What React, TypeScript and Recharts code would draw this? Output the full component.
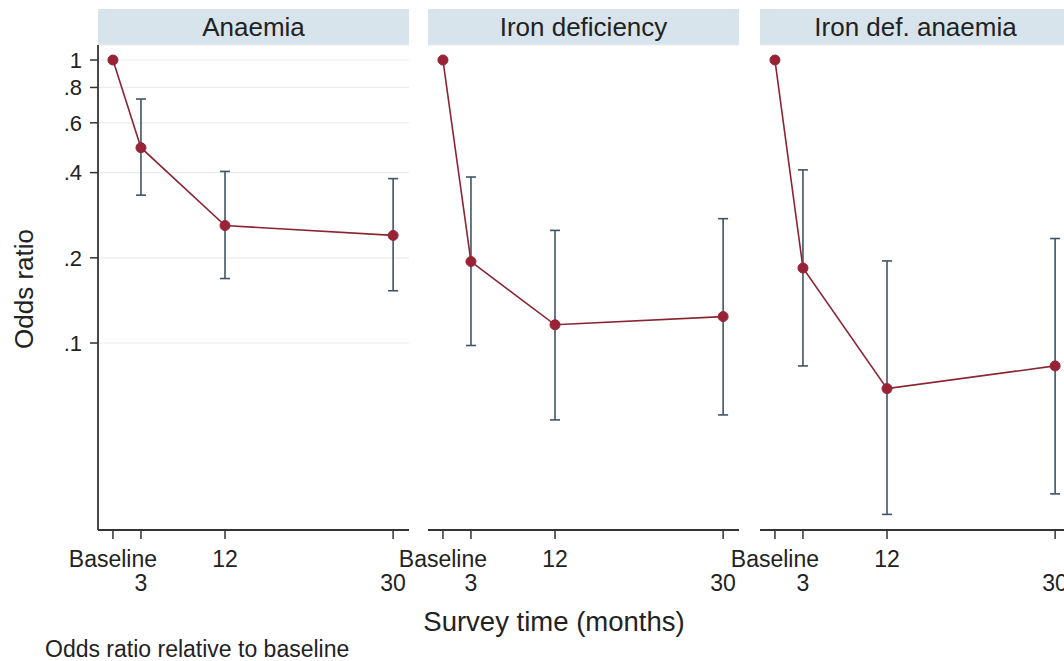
import React from "react";
import { LineChart, Line, XAxis, YAxis, CartesianGrid, ErrorBar } from "recharts";

// survey times (months), baseline = 0
const months = [0, 3, 12, 30];
const monthLabels = ["Baseline", "3", "12", "30"];

const yTicks = [0.1, 0.2, 0.4, 0.6, 0.8, 1];
const yTickLabels = [".1", ".2", ".4", ".6", ".8", "1"];

const panelTitles = ["Anaemia", "Iron deficiency", "Iron def. anaemia"];

// odds ratios with 95% CI
const anaemiaOR = [1, 0.49, 0.26, 0.24];
const anaemiaLow = [null, 0.333, 0.169, 0.153];
const anaemiaHigh = [null, 0.728, 0.404, 0.381];

const ironDefOR = [1, 0.194, 0.116, 0.124];
const ironDefLow = [null, 0.098, 0.0535, 0.0557];
const ironDefHigh = [null, 0.386, 0.25, 0.275];

const idaOR = [1, 0.184, 0.069, 0.083];
const idaLow = [null, 0.083, 0.0248, 0.0293];
const idaHigh = [null, 0.409, 0.195, 0.234];

const FONT = "'Liberation Sans', Arial, sans-serif";
const TEXT = "#222";
const LINE_RED = "#8c2533";
const DOT_RED = "#982336";
const BAR_BLUE = "#3f5468";
const STRIP = "#d8e4ec";

const PLOT_W = 311;
const Y_AXIS_W = 98;
const plotLefts = [98, 428, 760];

function buildRows(or: number[], low: (number | null)[], high: (number | null)[]) {
  return months.map((m, i) => ({
    month: m,
    or: or[i],
    err: low[i] == null || high[i] == null ? null : [or[i] - (low[i] as number), (high[i] as number) - or[i]],
  }));
}

const panels = [
  buildRows(anaemiaOR, anaemiaLow, anaemiaHigh),
  buildRows(ironDefOR, ironDefLow, ironDefHigh),
  buildRows(idaOR, idaLow, idaHigh),
];

const XTick = (props: any) => {
  const { x, y, payload } = props;
  const i = months.indexOf(payload.value);
  const secondRow = i % 2 === 1;
  return (
    <text x={x} y={y + (secondRow ? 50 : 26)} textAnchor="middle" fontSize={23} fill={TEXT} fontFamily={FONT}>
      {monthLabels[i]}
    </text>
  );
};

function Panel({ index }: { index: number }) {
  const first = index === 0;
  const chartLeft = plotLefts[index] - Y_AXIS_W;
  return (
    <div style={{ position: "absolute", left: chartLeft, top: 0 }}>
      <LineChart
        width={Y_AXIS_W + PLOT_W + 30}
        height={661}
        data={panels[index]}
        margin={{ top: 45, right: 30, bottom: 0, left: first ? 0 : Y_AXIS_W }}
      >
        <CartesianGrid vertical={false} stroke="#ebeced" strokeWidth={1.2} />
        <XAxis
          dataKey="month"
          type="number"
          domain={[-1.6, 31.7]}
          allowDataOverflow
          ticks={months}
          interval={0}
          height={131}
          tickSize={9}
          tick={<XTick />}
          axisLine={{ stroke: "#333", strokeWidth: 1.8 }}
          tickLine={{ stroke: "#333", strokeWidth: 1.5 }}
        />
        {first ? (
          <YAxis
            type="number"
            scale="log"
            domain={[0.02184, 1.13]}
            allowDataOverflow
            ticks={yTicks}
            interval={0}
            width={Y_AXIS_W}
            tickSize={8}
            tickMargin={8}
            tickFormatter={(v: number) => yTickLabels[yTicks.indexOf(v)]}
            tick={{ fontSize: 22, fill: TEXT, fontFamily: FONT }}
            axisLine={{ stroke: "#333", strokeWidth: 1.8 }}
            tickLine={{ stroke: "#333", strokeWidth: 1.5 }}
            label={{
              value: "Odds ratio",
              content: () => (
                <text
                  transform="translate(24,289) rotate(-90)"
                  textAnchor="middle"
                  dominantBaseline="central"
                  fontSize={26}
                  fill={TEXT}
                  fontFamily={FONT}
                >
                  Odds ratio
                </text>
              ),
            }}
          />
        ) : (
          <YAxis
            type="number"
            scale="log"
            domain={[0.02184, 1.13]}
            allowDataOverflow
            ticks={yTicks}
            interval={0}
            width={0}
            tick={false}
            axisLine={false}
            tickLine={false}
          />
        )}
        <Line
          dataKey="or"
          type="linear"
          stroke={LINE_RED}
          strokeWidth={1.6}
          dot={{ r: 5, fill: DOT_RED, stroke: DOT_RED, strokeWidth: 1 }}
          activeDot={false}
          isAnimationActive={false}
        >
          <ErrorBar dataKey="err" width={5} stroke={BAR_BLUE} strokeWidth={1.6} isAnimationActive={false} />
        </Line>
      </LineChart>
    </div>
  );
}

export default function App() {
  return (
    <div
      style={{
        position: "absolute",
        left: 0,
        top: 0,
        width: 1064,
        height: 661,
        overflow: "hidden",
        background: "#fff",
        fontFamily: FONT,
        color: TEXT,
      }}
    >
      {panelTitles.map((t, i) => (
        <div
          key={t}
          style={{
            position: "absolute",
            left: plotLefts[i],
            top: 9,
            width: PLOT_W,
            height: 36,
            lineHeight: "36px",
            background: STRIP,
            textAlign: "center",
            fontSize: 26,
          }}
        >
          {t}
        </div>
      ))}
      {[0, 1, 2].map((i) => (
        <Panel key={i} index={i} />
      ))}
      <div
        style={{
          position: "absolute",
          left: 354,
          top: 606,
          width: 400,
          lineHeight: "32px",
          textAlign: "center",
          fontSize: 27.5,
        }}
      >
        Survey time (months)
      </div>
      <div style={{ position: "absolute", left: 45, top: 639, lineHeight: "20px", fontSize: 23, whiteSpace: "nowrap" }}>
        Odds ratio relative to baseline
      </div>
    </div>
  );
}
